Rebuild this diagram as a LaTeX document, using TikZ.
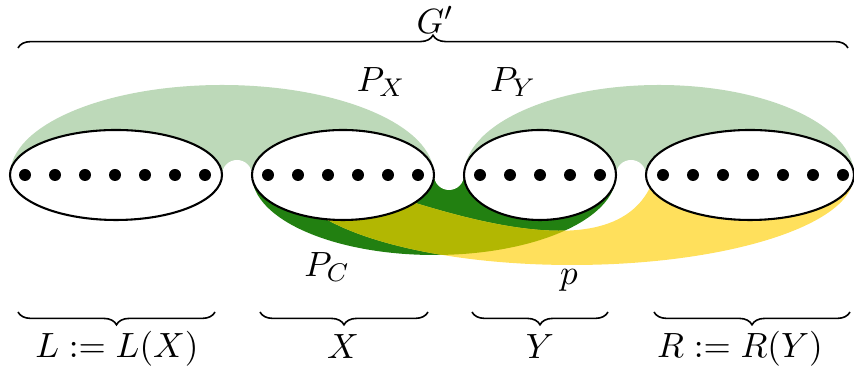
\documentclass[tikz,border=0pt]{standalone}
\usetikzlibrary{decorations.pathreplacing}
\definecolor{lgreen}{RGB}{189,217,185}
\definecolor{dgreen}{RGB}{34,128,17}
\definecolor{pyellow}{RGB}{255,224,92}
\definecolor{polive}{RGB}{178,183,2}
\begin{document}
\begin{tikzpicture}[x=0.3125pt,y=-0.3125pt,
  setbox/.style={draw=black,fill=white,line width=0.65pt},
  brc/.style={decorate,decoration={brace,amplitude=4pt},line width=0.5pt},
  ppath/.style={insert path={(290,175) arc[start angle=180,end angle=0,x radius=282,y radius=90] -- (655,175) .. controls (622,282) and (430,208) .. (330,175) -- cycle}},
  lbl/.style={inner sep=1pt,font=\fontsize{10.95}{13}\selectfont}]
\useasboundingbox (0,0) rectangle (854,371);
% light green paths P_X, P_Y
\begin{scope}
  \clip (0,0) rectangle (854,175);
  \fill[lgreen] (222,175) ellipse [x radius=212,y radius=90];
  \fill[lgreen] (659,175) ellipse [x radius=195,y radius=90];
\end{scope}
\fill[white] (237,175) circle [radius=15];
\fill[white] (631,175) circle [radius=15];
% P_C
\begin{scope}
  \clip (0,175) rectangle (854,371);
  \fill[dgreen] (434,175) ellipse [x radius=182,y radius=80];
\end{scope}
% p
\fill[pyellow,ppath];
\begin{scope}
  \clip (0,175) rectangle (854,371);
  \clip (434,175) ellipse [x radius=182,y radius=80];
  \fill[polive,ppath];
\end{scope}
\fill[white] (449,175) circle [radius=15];
% sets
\draw[setbox] (116,175) ellipse [x radius=106,y radius=45];
\draw[setbox] (343,175) ellipse [x radius=91,y radius=45];
\draw[setbox] (540,175) ellipse [x radius=76,y radius=45];
\draw[setbox] (750,175) ellipse [x radius=104,y radius=45];
\foreach \x in {25,55,...,205} \fill (\x,175) circle [radius=6];
\foreach \x in {268,298,...,418} \fill (\x,175) circle [radius=6];
\foreach \x in {480,510,...,600} \fill (\x,175) circle [radius=6];
\foreach \x in {663,693,...,843} \fill (\x,175) circle [radius=6];
% braces
\coordinate (ga) at (18,48);
\coordinate (gb) at (848,48);
\draw[brc] (ga) -- (gb);
\coordinate (la) at (18,312);
\coordinate (lb) at (215,312);
\coordinate (xa) at (260,312);
\coordinate (xb) at (428,312);
\coordinate (ya) at (472,312);
\coordinate (yb) at (608,312);
\coordinate (ra) at (654,312);
\coordinate (rb) at (850,312);
\draw[brc] (lb) -- (la);
\draw[brc] (xb) -- (xa);
\draw[brc] (yb) -- (ya);
\draw[brc] (rb) -- (ra);
% labels
\node[lbl] (gp) at (435,20) {$G'$};
\node[lbl] (px) at (381,82) {$P_X$};
\node[lbl] (py) at (513,82) {$P_Y$};
\node[lbl] (pc) at (327,267) {$P_C$};
\node[lbl] (pp) at (569,280) {$p$};
\node[lbl] (ll) at (117,349) {$L := L(X)$};
\node[lbl] (lx) at (343,347) {$X$};
\node[lbl] (ly) at (540,347) {$Y$};
\node[lbl] (lr) at (740,349) {$R := R(Y)$};
\end{tikzpicture}
\end{document}
